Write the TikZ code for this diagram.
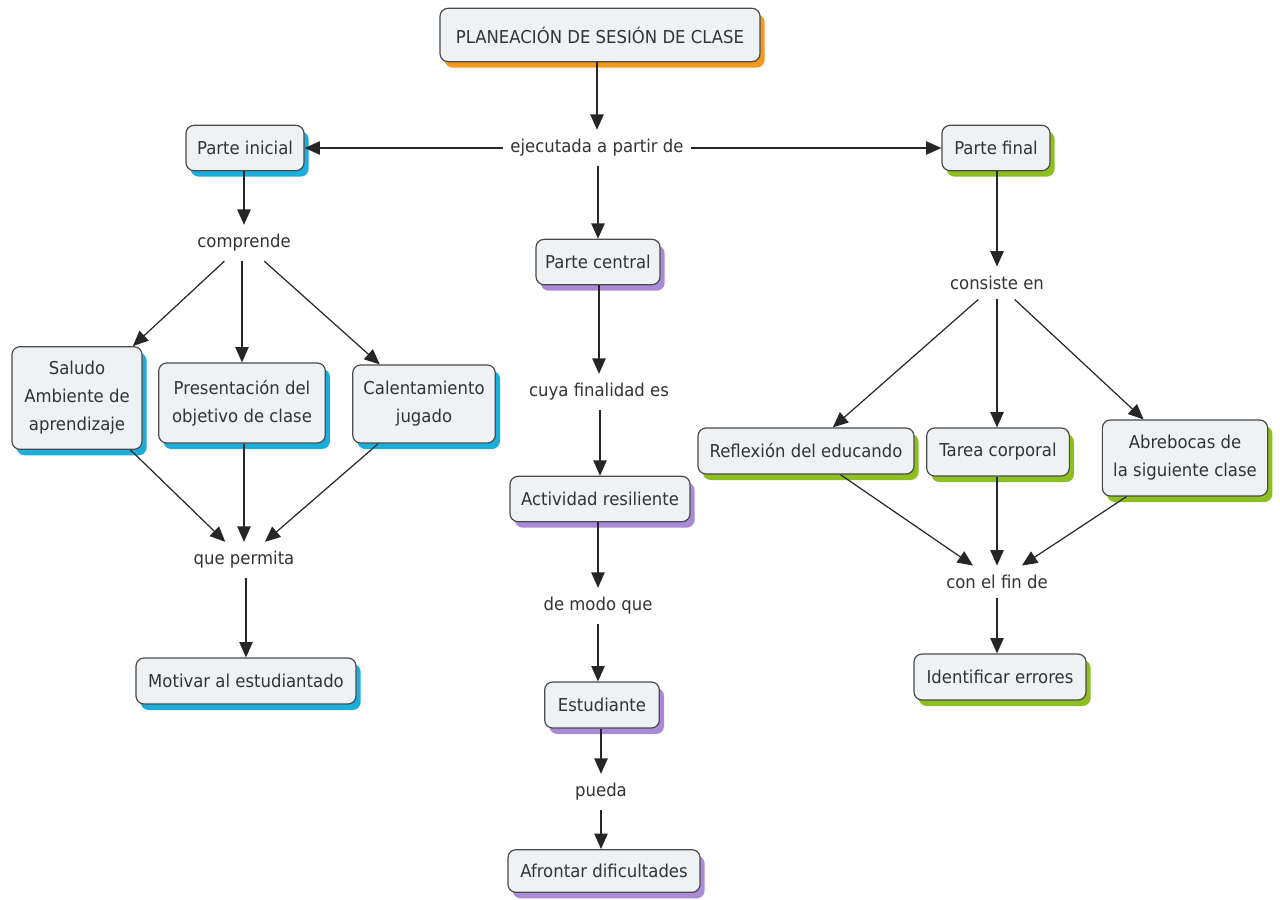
\documentclass[tikz,border=0pt]{standalone}
\usepackage{fontspec}
\setmainfont{DejaVu Sans}[FakeStretch=0.93]
\usetikzlibrary{arrows.meta,shadows}
\definecolor{txt}{HTML}{333333}
\definecolor{boxfill}{HTML}{EEF2F4}
\definecolor{boxdraw}{HTML}{4A4A4A}
\definecolor{shorange}{HTML}{F39A1E}
\definecolor{shcyan}{HTML}{1AAEDC}
\definecolor{shpurple}{HTML}{A98AD9}
\definecolor{shgreen}{HTML}{8CBF1F}
\begin{document}
\begin{tikzpicture}[x=0.75pt,y=-0.75pt,
  font=\fontsize{13.3pt}{21pt}\selectfont,
  concept/.style={draw=boxdraw, line width=0.9pt, fill=boxfill, rounded corners=6pt,
    text=txt, align=center, inner sep=0pt},
  shorg/.style={drop shadow={fill=shorange, opacity=1, shadow xshift=3.5pt, shadow yshift=-4.5pt}},
  shcya/.style={drop shadow={fill=shcyan, opacity=1, shadow xshift=3.5pt, shadow yshift=-4.5pt}},
  shpur/.style={drop shadow={fill=shpurple, opacity=1, shadow xshift=3.5pt, shadow yshift=-4.5pt}},
  shgre/.style={drop shadow={fill=shgreen, opacity=1, shadow xshift=3.5pt, shadow yshift=-4.5pt}},
  link/.style={text=txt, inner xsep=5pt, inner ysep=7pt},
  arr/.style={draw=black!85, line width=0.9pt, -{Triangle[length=11.5pt,width=10pt]}}
]
\useasboundingbox[fill=white] (0,0) rectangle (1280,899);

% concepts
\node[concept, shorg, minimum width=240pt, minimum height=40pt] (title) at (600,35) {PLANEACIÓN DE SESIÓN DE CLASE};
\node[link] (ejec) at (597,148) {ejecutada a partir de};
\node[concept, shcya, minimum width=88.5pt, minimum height=34pt] (pini) at (245,148) {Parte inicial};
\node[concept, shgre, minimum width=81pt, minimum height=34pt] (pfin) at (996,148) {Parte final};
\node[concept, shpur, minimum width=93pt, minimum height=34pt] (pcen) at (598,262) {Parte central};

\node[link] (compr) at (244,243) {comprende};
\node[link] (consi) at (997,283) {consiste en};
\node[link] (cuya) at (599,392) {cuya finalidad es};

\node[concept, shcya, minimum width=97.5pt, minimum height=77pt] (salu) at (77,398) {Saludo\\Ambiente de\\aprendizaje};
\node[concept, shcya, minimum width=125pt, minimum height=60pt] (pres) at (242,403) {Presentación del\\objetivo de clase};
\node[concept, shcya, minimum width=107pt, minimum height=58.5pt] (cale) at (424,404) {Calentamiento\\jugado};

\node[concept, shgre, minimum width=162pt, minimum height=34.5pt] (refl) at (806,451) {Reflexión del educando};
\node[concept, shgre, minimum width=107pt, minimum height=36pt] (tare) at (998,452) {Tarea corporal};
\node[concept, shgre, minimum width=124pt, minimum height=57pt] (abre) at (1185,458) {Abrebocas de\\la siguiente clase};

\node[concept, shpur, minimum width=135pt, minimum height=34pt] (acti) at (600,499) {Actividad resiliente};

\node[link] (quep) at (244,560) {que permita};
\node[link] (conf) at (997,582) {con el fin de};
\node[link] (demo) at (598,606) {de modo que};

\node[concept, shcya, minimum width=165pt, minimum height=34.5pt] (moti) at (246,681) {Motivar al estudiantado};
\node[concept, shgre, minimum width=129pt, minimum height=34.5pt] (iden) at (1000,677) {Identificar errores};
\node[concept, shpur, minimum width=86pt, minimum height=34.5pt] (estu) at (602,705) {Estudiante};
\node[link] (pued) at (601,792) {pueda};
\node[concept, shpur, minimum width=144pt, minimum height=32pt] (afro) at (604,871) {Afrontar dificultades};

% connectors
\draw[arr] (title.south -| ejec) -- (ejec);
\draw[arr] (ejec) -- (pini);
\draw[arr] (ejec) -- (pfin);
\draw[arr] (ejec.south -| pcen) -- (pcen);
\draw[arr] (pini.south -| compr) -- (compr);
\draw[arr] (compr) -- (salu);
\draw[arr] (compr.south -| pres) -- (pres);
\draw[arr] (compr) -- (cale);
\draw[arr] (salu) -- (quep);
\draw[arr] (pres.south -| quep) -- (quep);
\draw[arr] (cale) -- (quep);
\draw[arr] (quep.south -| moti) -- (moti);
\draw[arr] (pcen.south -| cuya) -- (cuya);
\draw[arr] (cuya.south -| acti) -- (acti);
\draw[arr] (acti.south -| demo) -- (demo);
\draw[arr] (demo) -- (demo |- estu.north);
\draw[arr] (estu.south -| pued) -- (pued);
\draw[arr] (pued) -- (pued |- afro.north);
\draw[arr] (pfin.south -| consi) -- (consi);
\draw[arr] (consi) -- (refl);
\draw[arr] (consi) -- (consi |- tare.north);
\draw[arr] (consi) -- (abre);
\draw[arr] (refl) -- (conf);
\draw[arr] (tare.south -| conf) -- (conf);
\draw[arr] (abre) -- (conf);
\draw[arr] (conf) -- (conf |- iden.north);
\end{tikzpicture}
\end{document}
